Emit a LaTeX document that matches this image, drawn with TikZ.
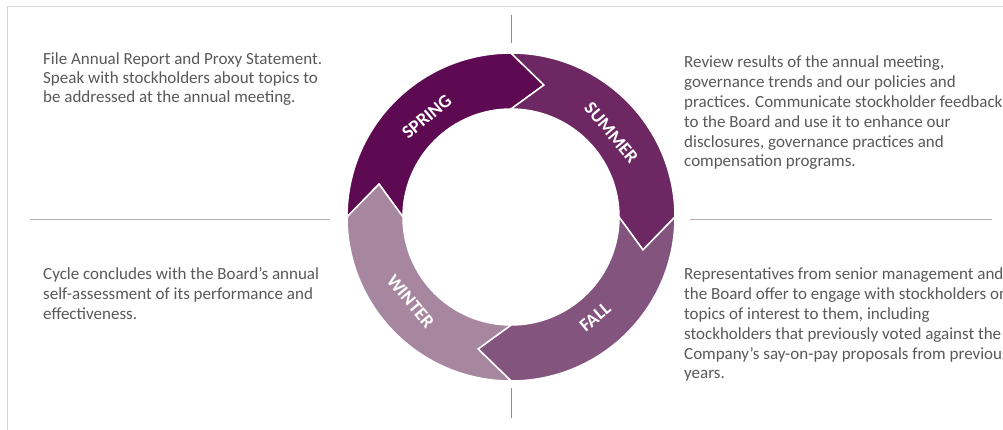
\documentclass[tikz,border=0pt]{standalone}
\usepackage{fontspec}
\setmainfont{Carlito}
\usetikzlibrary{calc, positioning}
\definecolor{springcol}{HTML}{5E0A52}
\definecolor{summercol}{HTML}{6D2762}
\definecolor{fallcol}{HTML}{83557E}
\definecolor{wintercol}{HTML}{A6879F}
\definecolor{textgray}{HTML}{595959}
\definecolor{framegray}{HTML}{D4D4D4}
\definecolor{rulecol}{HTML}{B9ABB8}
\definecolor{tickgray}{HTML}{8C8C8C}

\begin{document}
\begin{tikzpicture}[x=1pt, y=1pt,
    desc/.style={font=\fontsize{17}{19.8}\selectfont, text=textgray, align=left, inner sep=0pt, anchor=base west},
    season/.style={font=\fontsize{18.5}{20}\selectfont\bfseries, text=white, inner sep=0pt}]
    \useasboundingbox (-511,-213) rectangle (492,217);
    \fill[white] (-511,-213) rectangle (492,217);
    \draw[framegray, line width=1pt] (-503,-213) -- (-503,210) -- (492,210);

    \def\ro{164pt} \def\ri{108pt} \def\rm{136pt}
    \foreach \a/\col/\name/\rot in {180/springcol/SPRING/-90, 90/summercol/SUMMER/-90, 0/fallcol/FALL/90, -90/wintercol/WINTER/90} {
        \filldraw[fill=\col, draw=white, line width=1.5pt, line join=miter] (\a:\ro) arc[start angle=\a, end angle=\a-90, radius=\ro] -- ({\a-104}:\rm) -- ({\a-90}:\ri) arc[start angle=\a-90, end angle=\a, radius=\ri] -- ({\a-14}:\rm) -- cycle;
        \node[season, rotate={\a-50+\rot}] (label-\name) at ({\a-50}:131pt) {\name};
    }

    \draw[tickgray, line width=0.8pt] (0,202) -- (0,174);
    \draw[tickgray, line width=0.8pt] (0,-171) -- (0,-201);
    \draw[rulecol, line width=1pt] (-481,-3) -- (-181,-3);
    \draw[rulecol, line width=1pt] (179,-3) -- (481,-3);

    % anchored on the baseline of the last line
    \node[desc, font=\fontsize{17}{18.8}\selectfont] (spring-text) at (-468,114.4) {File Annual Report and Proxy Statement.\\Speak with stockholders about topics to\\be addressed at the annual meeting.};
    \node[desc] (summer-text) at (173,50) {Review results of the annual meeting,\\governance trends and our policies and\\practices. Communicate stockholder feedback\\to the Board and use it to enhance our\\disclosures, governance practices and\\compensation programs.};
    \node[desc] (winter-text) at (-468,-102.6) {Cycle concludes with the Board’s annual\\self-assessment of its performance and\\effectiveness.};
    \node[desc] (fall-text) at (173,-162) {Representatives from senior management and\\the Board offer to engage with stockholders on\\topics of interest to them, including\\stockholders that previously voted against the\\Company’s say-on-pay proposals from previous\\years.};
\end{tikzpicture}
\end{document}
